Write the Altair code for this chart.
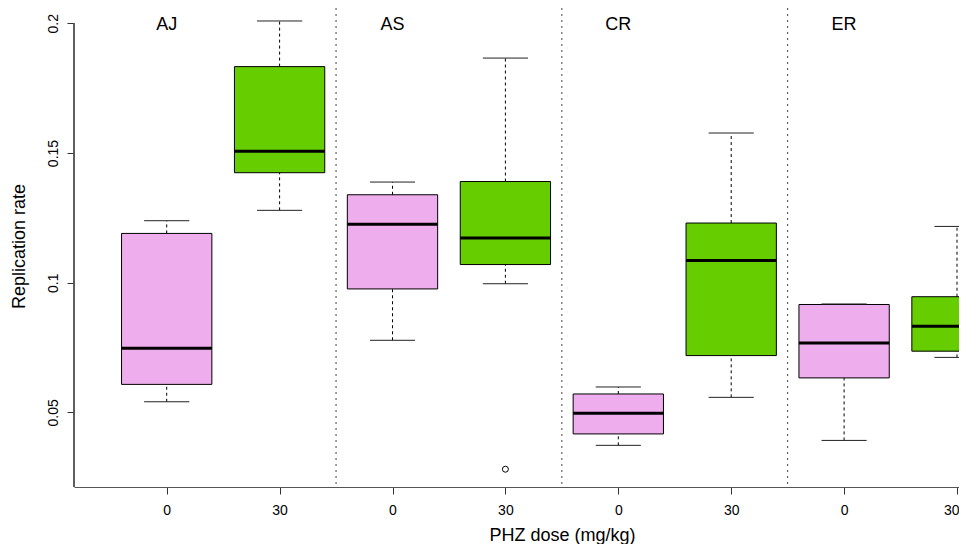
import altair as alt
import pandas as pd

# ---- data ----
groups = ["AJ", "AS", "CR", "ER"]
doses = ["0", "30"]
# box statistics, in order AJ-0, AJ-30, AS-0, AS-30, CR-0, CR-30, ER-0, ER-30
lower_whisker = [0.0541, 0.1279, 0.0778, 0.0996, 0.0373, 0.0558, 0.0392, 0.0712]
q1 = [0.0608, 0.1424, 0.0976, 0.1070, 0.0417, 0.0719, 0.0633, 0.0736]
median = [0.0747, 0.1507, 0.1225, 0.1172, 0.0497, 0.1086, 0.0768, 0.0832]
q3 = [0.1190, 0.1833, 0.1339, 0.1390, 0.0571, 0.1230, 0.0916, 0.0946]
upper_whisker = [0.1239, 0.2009, 0.1388, 0.1866, 0.0598, 0.1577, 0.0918, 0.1217]
outlier_group = ["AS"]
outlier_dose = ["30"]
outlier_value = [0.0281]
y_ticks = [0.05, 0.1, 0.15, 0.2]
colors = ["#EEAEEE", "#66CD00"]

# ---- tables ----
rows = []
i = 0
for g in groups:
    for d in doses:
        rows.append(dict(group=g, dose=d, lo=lower_whisker[i], q1=q1[i],
                         med=median[i], q3=q3[i], hi=upper_whisker[i]))
        i += 1
df = pd.DataFrame(rows)
df["pos"] = df.index + 1

odf = pd.DataFrame(dict(group=outlier_group, dose=outlier_dose, value=outlier_value))
odf = odf.merge(df[["group", "dose", "pos"]], on=["group", "dose"])

sep = pd.DataFrame(dict(k=range(1, len(groups))))
sep["sep"] = sep["k"] * len(doses) + 0.5

lab = df[df["dose"] == doses[0]][["group", "pos"]]

n_boxes = len(df)

# ---- layout ----
W, H = 885, 479
xs = alt.Scale(domain=[0.1789, 8.0177], nice=False, zero=False)
ys = alt.Scale(domain=[0.02124, 0.2059], nice=False, zero=False)
XT = "PHZ dose (mg/kg)"
YT = "Replication rate"

label_expr = f"datum.value % 2 == 1 ? '{doses[0]}' : '{doses[1]}'"
x_axis = alt.Axis(values=list(range(1, n_boxes + 1)), labelExpr=label_expr,
                  tickSize=7, labelPadding=9, domain=True, domainColor="#555",
                  grid=False,
                  labelFontSize=14, labelColor="black", tickColor="#333",
                  labelFlush=5, labelFlushOffset=2, labelOverlap=False, labelBound=False,
                  titleFontSize=18, titleFontWeight="normal", titleColor="black",
                  titleX=488, titleY=53, titleAlign="center", titleBaseline="alphabetic")
y_axis = alt.Axis(values=y_ticks, format=".2~f", labelAngle=270, labelAlign="center",
                  labelBaseline="bottom", tickSize=7, labelPadding=7, domain=False,
                  grid=False, labelFontSize=14, labelColor="black", tickColor="#333",
                  titleFontSize=18, titleFontWeight="normal",
                  titleColor="black", titleAngle=270, titleX=-55, titleY=238,
                  titleAlign="center", titleBaseline="middle")


def X(f):
    return alt.X(f, scale=xs, axis=x_axis, title=XT)


def Y(f):
    return alt.Y(f, scale=ys, axis=y_axis, title=YT)


base = alt.Chart(df)

box_base = base.transform_calculate(bl="datum.pos - 0.4", br="datum.pos + 0.4")
boxes = box_base.mark_rect(stroke="black", strokeWidth=1, clip=True).encode(
    x=X("bl:Q"), x2="br:Q", y=Y("q1:Q"), y2="q3:Q",
    fill=alt.Fill("dose:N", scale=alt.Scale(domain=doses, range=colors), legend=None))
medians = box_base.mark_rule(color="black", strokeWidth=3, clip=True).encode(
    x=X("bl:Q"), x2="br:Q", y=Y("med:Q"))

separators = alt.Chart(sep).mark_rule(strokeDash=[2, 4], color="#444", strokeWidth=1).encode(
    x=X("sep:Q"))

whisk_up = base.mark_rule(strokeDash=[3, 3], color="black", strokeWidth=1, clip=True).encode(
    x=X("pos:Q"), y=Y("q3:Q"), y2="hi:Q")
whisk_lo = base.mark_rule(strokeDash=[3, 3], color="black", strokeWidth=1, clip=True).encode(
    x=X("pos:Q"), y=Y("lo:Q"), y2="q1:Q")

caps_base = base.transform_calculate(cl="datum.pos - 0.2", cr="datum.pos + 0.2")
cap_hi = caps_base.mark_rule(color="#222", strokeWidth=1, clip=True).encode(
    x=X("cl:Q"), x2="cr:Q", y=Y("hi:Q"))
cap_lo = caps_base.mark_rule(color="#222", strokeWidth=1, clip=True).encode(
    x=X("cl:Q"), x2="cr:Q", y=Y("lo:Q"))

outliers = alt.Chart(odf).mark_point(shape="circle", filled=False, size=36,
                                     color="black", strokeWidth=1, opacity=1).encode(
    x=X("pos:Q"), y=Y("value:Q"))

labels = alt.Chart(lab).mark_text(fontSize=18, color="black", align="center",
                                  baseline="middle", dy=2).encode(
    x=X("pos:Q"),
    y=alt.YDatum(y_ticks[-1], scale=ys, axis=y_axis, title=YT),
    text="group:N")

yline = alt.Chart(lab).mark_rule(color="#555", strokeWidth=1).encode(
    x=alt.value(0), y=alt.YDatum(y_ticks[-1], scale=ys, axis=y_axis, title=YT),
    y2=alt.value(H))

chart = alt.layer(
    boxes, medians, separators, whisk_up, whisk_lo, cap_hi, cap_lo, outliers,
    labels, yline
).properties(
    width=W, height=H,
    autosize=alt.AutoSizeParams(type="none"),
    padding={"left": 66, "top": 0, "right": 0, "bottom": 57},
).configure(font="Liberation Sans").configure_view(strokeWidth=0)

chart.save("out.html", embed_options={"renderer": "svg", "actions": False})
